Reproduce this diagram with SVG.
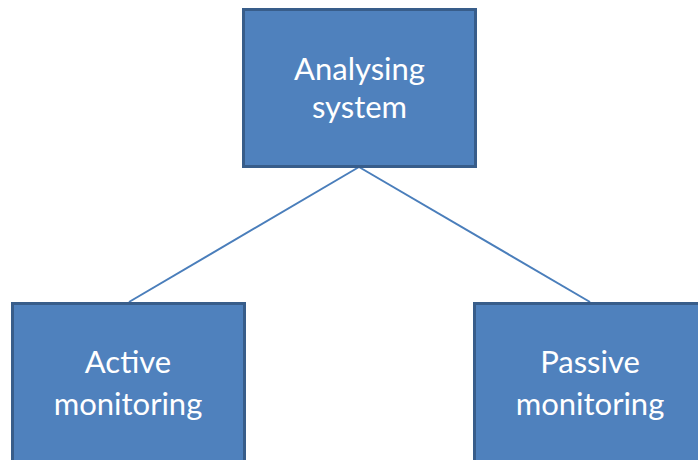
<svg xmlns="http://www.w3.org/2000/svg" width="698" height="460" viewBox="0 0 698 460">
<style>
.box{fill:#4F81BD;stroke:#385D8A;stroke-width:3}
.lbl{font-family:Lato,"Open Sans","Liberation Sans",sans-serif;font-size:31px;fill:#FFFFFF;text-anchor:middle}
.conn{stroke:#4A7EBB;stroke-width:2;fill:none}
</style>
<rect width="698" height="460" fill="#FFFFFF"/>
<g id="connectors">
<line class="conn" x1="359" y1="167" x2="129" y2="302"/>
<line class="conn" x1="359" y1="167" x2="590" y2="302"/>
</g>
<g id="analysing">
<rect class="box" x="243.5" y="9.5" width="232" height="157"/>
<text class="lbl" x="359.5" y="80">Analysing</text>
<text class="lbl" x="359.5" y="118">system</text>
</g>
<g id="active">
<rect class="box" x="12.5" y="303.5" width="232" height="170"/>
<text class="lbl" x="128" y="373">Active</text>
<text class="lbl" x="128" y="415">monitoring</text>
</g>
<g id="passive">
<rect class="box" x="474.5" y="303.5" width="240" height="170"/>
<text class="lbl" x="590" y="373">Passive</text>
<text class="lbl" x="590" y="415">monitoring</text>
</g>
</svg>
